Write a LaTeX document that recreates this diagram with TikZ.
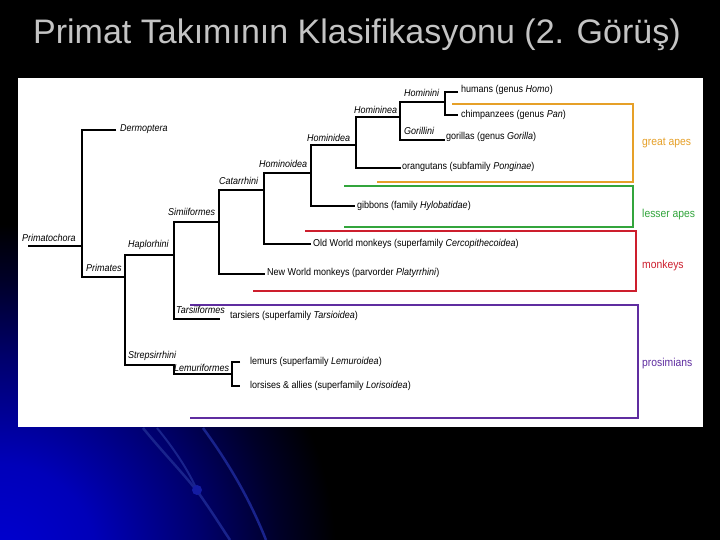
\documentclass[tikz,border=0pt]{standalone}
\usepackage{fontspec}
\setmainfont{Liberation Sans}
\newfontfamily\treefont[FakeStretch=0.9]{Liberation Sans}
\definecolor{titlegray}{RGB}{196,196,196}
\definecolor{gorange}{RGB}{230,160,40}
\definecolor{ggreen}{RGB}{50,165,60}
\definecolor{gred}{RGB}{205,30,45}
\definecolor{gpurple}{RGB}{95,45,160}
\definecolor{arcblue}{RGB}{25,35,140}
\pgfdeclareradialshading{bluecorner}{\pgfpoint{0bp}{0bp}}{color(0bp)=(rgb,255:red,0;green,0;blue,210); color(6bp)=(rgb,255:red,0;green,0;blue,185); color(12.5bp)=(rgb,255:red,0;green,0;blue,110); color(17.5bp)=(rgb,255:red,0;green,0;blue,40); color(21bp)=(black); color(25bp)=(black); color(50bp)=(black)}
\tikzset{
  tree/.style={line width=1.6pt, black},
  lab/.style={font=\treefont\itshape\fontsize{10}{12}\selectfont, inner sep=0pt, anchor=west},
  leaf/.style={font=\treefont\fontsize{10}{12}\selectfont, inner sep=0pt, anchor=west},
  grp/.style={line width=1.8pt},
  grplab/.style={font=\treefont\fontsize{11.5}{13}\selectfont, inner sep=0pt, anchor=west},
}
\begin{document}
\begin{tikzpicture}[x=1pt,y=-1pt]
\useasboundingbox (0,0) rectangle (720,540);
\fill[black] (0,0) rectangle (720,540);
\begin{scope}
  \clip (0,0) rectangle (720,540);
  \path[shading=bluecorner] (0,560) circle (400pt);
  \draw[arcblue, line width=2.5pt] (143,428) .. controls (165,455) and (185,475) .. (200,495) .. controls (212,512) and (222,528) .. (230,540);
  \draw[arcblue, line width=2pt] (157,428) .. controls (175,450) and (188,470) .. (197,490);
  \draw[arcblue, line width=2.5pt] (203,428) .. controls (230,465) and (250,500) .. (266,540);
  \fill[arcblue!80!blue] (197,490) circle (5pt);
\end{scope}
% title
\node[anchor=west, inner sep=0pt, text=titlegray, font=\fontsize{34}{40}\selectfont] (title) at (33,35) {Primat Takımının Klasifikasyonu (2. Görüş)};
% white panel
\fill[white] (18,78) rectangle (703,427);
% coordinates
\coordinate (root) at (28,246);
\coordinate (r1) at (82,246);
\coordinate (r1t) at (82,130);
\coordinate (r1b) at (82,277);
\coordinate (derm) at (116,130);
\coordinate (pr) at (125,277);
\coordinate (prt) at (125,255);
\coordinate (prb) at (125,365);
\coordinate (ha) at (174,255);
\coordinate (hat) at (174,222);
\coordinate (hab) at (174,319);
\coordinate (st) at (174,365);
\coordinate (stb) at (174,374);
\coordinate (le) at (232,374);
\coordinate (let) at (232,362);
\coordinate (leb) at (232,386);
\coordinate (lem) at (240,362);
\coordinate (lor) at (240,386);
\coordinate (si) at (219,222);
\coordinate (sit) at (219,190);
\coordinate (sib) at (219,274);
\coordinate (ta) at (220,319);
\coordinate (ca) at (264,190);
\coordinate (cat) at (264,173);
\coordinate (cab) at (264,244);
\coordinate (nwm) at (265,274);
\coordinate (hoid) at (311,173);
\coordinate (hoidt) at (311,145);
\coordinate (hoidb) at (311,206);
\coordinate (owm) at (311,244);
\coordinate (hid) at (356,145);
\coordinate (hidt) at (356,117);
\coordinate (hidb) at (356,168);
\coordinate (gib) at (355,206);
\coordinate (hnea) at (400,117);
\coordinate (hneat) at (400,102);
\coordinate (hneab) at (400,140);
\coordinate (orang) at (401,168);
\coordinate (hini) at (445,102);
\coordinate (hinit) at (445,92);
\coordinate (hinib) at (445,115);
\coordinate (gor) at (445,140);
\coordinate (hum) at (458,92);
\coordinate (chi) at (458,115);
% tree
\draw[tree] (root) -- (r1);
\draw[tree] (derm) -- (r1t) -- (r1b) -- (pr);
\draw[tree] (ha) -- (prt) -- (prb) -- (st) -- (stb) -- (le);
\draw[tree] (lem) -- (let) -- (leb) -- (lor);
\draw[tree] (si) -- (hat) -- (hab) -- (ta);
\draw[tree] (ca) -- (sit) -- (sib) -- (nwm);
\draw[tree] (hoid) -- (cat) -- (cab) -- (owm);
\draw[tree] (hid) -- (hoidt) -- (hoidb) -- (gib);
\draw[tree] (hnea) -- (hidt) -- (hidb) -- (orang);
\draw[tree] (hini) -- (hneat) -- (hneab) -- (gor);
\draw[tree] (hum) -- (hinit) -- (hinib) -- (chi);
% group brackets
\draw[grp, gorange] (452,104) -- (633,104) -- (633,182) -- (377,182);
\draw[grp, ggreen] (344,186) -- (633,186) -- (633,227) -- (344,227);
\draw[grp, gred] (305,231) -- (636,231) -- (636,291) -- (253,291);
\draw[grp, gpurple] (190,305) -- (638,305) -- (638,418) -- (190,418);
% clade labels
\node[lab] (lPrimatochora) at (22,238) {Primatochora};
\node[lab] (lDermoptera) at (120,129) {Dermoptera};
\node[lab] (lPrimates) at (86,268) {Primates};
\node[lab] (lHaplorhini) at (128,245) {Haplorhini};
\node[lab] (lSimiiformes) at (168,212) {Simiiformes};
\node[lab] (lCatarrhini) at (219,181) {Catarrhini};
\node[lab] (lHominoidea) at (259,164) {Hominoidea};
\node[lab] (lHominidea) at (307,138) {Hominidea};
\node[lab] (lHomininea) at (354,110) {Homininea};
\node[lab] (lHominini) at (404,93) {Hominini};
\node[lab] (lGorillini) at (404,131) {Gorillini};
\node[lab] (lTarsiiformes) at (176,310) {Tarsiiformes};
\node[lab] (lStrepsirrhini) at (128,356) {Strepsirrhini};
\node[lab] (lLemuriformes) at (174,368) {Lemuriformes};
% leaves
\node[leaf] (tHum) at (461,90) {humans (genus \textit{Homo})};
\node[leaf] (tChi) at (461,115) {chimpanzees (genus \textit{Pan})};
\node[leaf] (tGor) at (446,137) {gorillas (genus \textit{Gorilla})};
\node[leaf] (tOra) at (402,167) {orangutans (subfamily \textit{Ponginae})};
\node[leaf] (tGib) at (357,206) {gibbons (family \textit{Hylobatidae})};
\node[leaf] (tOwm) at (313,244) {Old World monkeys (superfamily \textit{Cercopithecoidea})};
\node[leaf] (tNwm) at (267,273) {New World monkeys (parvorder \textit{Platyrrhini})};
\node[leaf] (tTar) at (230,316) {tarsiers (superfamily \textit{Tarsioidea})};
\node[leaf] (tLem) at (250,362) {lemurs (superfamily \textit{Lemuroidea})};
\node[leaf] (tLor) at (250,386) {lorsises \& allies (superfamily \textit{Lorisoidea})};
% group labels
\node[grplab, text=gorange] (gGreat) at (642,143) {great apes};
\node[grplab, text=ggreen] (gLesser) at (642,215) {lesser apes};
\node[grplab, text=gred] (gMonk) at (642,266) {monkeys};
\node[grplab, text=gpurple] (gPros) at (642,364) {prosimians};
\end{tikzpicture}
\end{document}
